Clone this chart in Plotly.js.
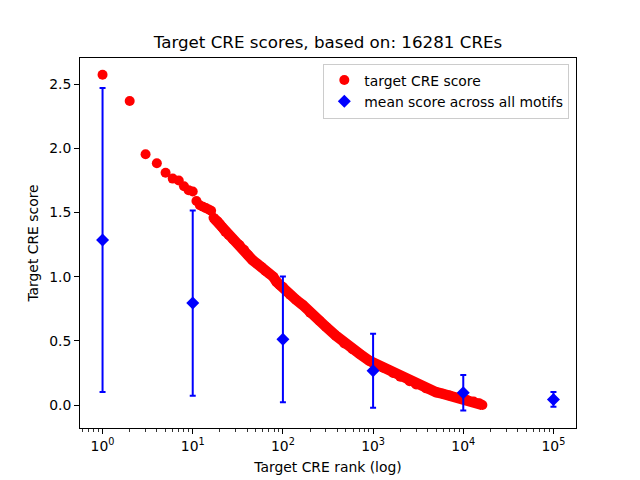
<!DOCTYPE html>
<html>
<head>
<meta charset="utf-8">
<script src="https://cdn.plot.ly/plotly-3.0.1.min.js"></script>
<style>html,body{margin:0;padding:0;background:#fff;}#chart{width:640px;height:480px;}</style>
</head>
<body>
<div id="chart"></div>
<script>
// Red points: target CRE score by rank
var ranks = [1,2,3,4,5,6,7,8,9,10,11,12,13,14,15,16,17,18,19,20,21,22,23,25,28,33,37,41,46,52,58,64,70,78,85,92,100,120,140,166,200,254,300,387,480,590,706,908,1000,1300,1668,2000,2540,3000,3870,5000,5900,7000,9000,11000,13000,15000,16281];
var scores = [2.575,2.37,1.955,1.885,1.81,1.765,1.75,1.705,1.675,1.665,1.59,1.557,1.545,1.535,1.525,1.515,1.46,1.44,1.43,1.41,1.39,1.37,1.35,1.325,1.29,1.247,1.21,1.169,1.13,1.10,1.075,1.045,1.025,1.0,0.96,0.935,0.92,0.86,0.82,0.78,0.72,0.657,0.61,0.54,0.48,0.436,0.40,0.345,0.33,0.29,0.25,0.22,0.185,0.16,0.13,0.10,0.088,0.075,0.058,0.04,0.028,0.013,0.0];
// index from which the red points are dense enough to form a continuous band
var bandStart = 16;

// Blue: mean score across all motifs with error bars
var meanX = [1,10,100,1000,10000,100000];
var meanY = [1.286,0.795,0.512,0.267,0.096,0.044];
var meanErr = [1.185,0.722,0.49,0.288,0.138,0.058];

// Tick labels
var xTickVals = [1,10,100,1000,10000,100000];
var xTickText = ['10<sup>0</sup>','10<sup>1</sup>','10<sup>2</sup>','10<sup>3</sup>','10<sup>4</sup>','10<sup>5</sup>'];

var minorVals = [];
for (var e = -1; e <= 5; e++) {
  for (var m = 2; m <= 9; m++) minorVals.push(m * Math.pow(10, e));
}

var FONT = 'DejaVu Sans, sans-serif';

var traces = [
  {
    x: ranks.slice(bandStart), y: scores.slice(bandStart),
    mode: 'lines', type: 'scatter', showlegend: false, hoverinfo: 'skip',
    line: {color: '#ff0000', width: 10.5}
  },
  {
    x: ranks, y: scores, mode: 'markers', type: 'scatter',
    name: 'target CRE score',
    marker: {color: '#ff0000', size: 10}
  },
  {
    x: meanX, y: meanY, mode: 'markers', type: 'scatter',
    name: 'mean score across all motifs',
    marker: {color: '#0000ff', symbol: 'diamond', size: 10},
    error_y: {type: 'data', array: meanErr, visible: true, color: '#0000ff', thickness: 2, width: 3}
  }
];

var layout = {
  width: 640, height: 480,
  paper_bgcolor: '#ffffff', plot_bgcolor: '#ffffff',
  margin: {l: 80, r: 64, t: 58, b: 52, pad: 0},
  font: {family: FONT, size: 13.9, color: '#000000'},
  title: {
    text: 'Target CRE scores, based on: 16281 CREs',
    font: {family: FONT, size: 16.7, color: '#000000'},
    x: 0.5125, xanchor: 'center', y: 0.912, yanchor: 'middle'
  },
  xaxis: {
    type: 'log', range: [-0.25, 5.25], autorange: false,
    tickvals: xTickVals, ticktext: xTickText,
    ticks: 'outside', ticklen: 5, tickwidth: 1, tickcolor: '#000',
    showgrid: false, zeroline: false,
    showline: true, mirror: true, linecolor: '#000', linewidth: 1,
    tickfont: {family: FONT, size: 13.9, color: '#000'},
    minor: {tickvals: minorVals, ticks: 'outside', ticklen: 2.5, tickwidth: 0.8, tickcolor: '#000', showgrid: false},
    title: {text: 'Target CRE rank (log)', font: {family: FONT, size: 13.9, color: '#000'}, standoff: 9},
    automargin: false
  },
  yaxis: {
    range: [-0.179, 2.705], autorange: false,
    tickvals: [0, 0.5, 1.0, 1.5, 2.0, 2.5], tickformat: '.1f',
    ticks: 'outside', ticklen: 5, tickwidth: 1, tickcolor: '#000',
    showgrid: false, zeroline: false,
    showline: true, mirror: true, linecolor: '#000', linewidth: 1,
    tickfont: {family: FONT, size: 13.9, color: '#000'},
    title: {text: 'Target CRE score', font: {family: FONT, size: 13.9, color: '#000'}, standoff: 7},
    automargin: false
  },
  legend: {
    x: 0.9865, xanchor: 'right', y: 0.985, yanchor: 'top',
    bgcolor: 'rgba(255,255,255,0.8)', bordercolor: '#cccccc', borderwidth: 1,
    font: {family: FONT, size: 13.9, color: '#000'},
    tracegroupgap: 0
  },
  showlegend: true
};

Plotly.newPlot('chart', traces, layout, {displayModeBar: false, staticPlot: true});
</script>
</body>
</html>
